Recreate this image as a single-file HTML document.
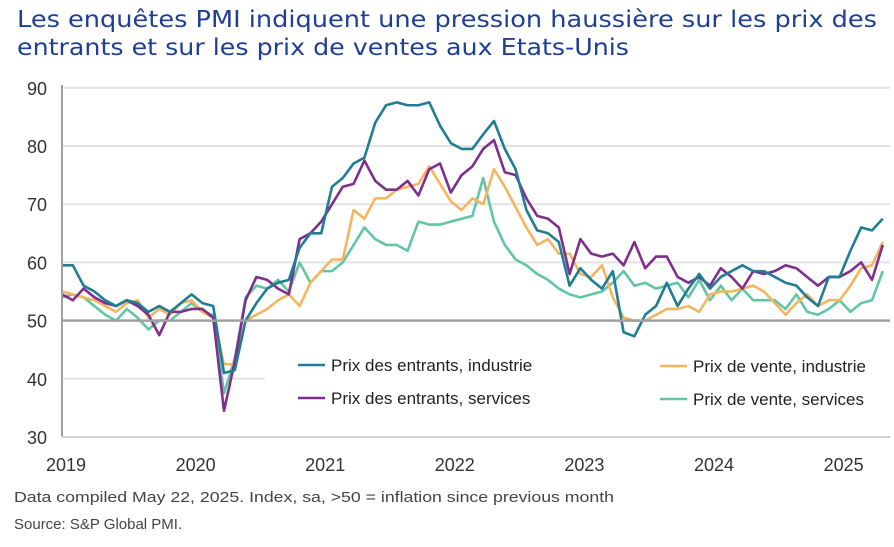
<!DOCTYPE html>
<html><head><meta charset="utf-8"><style>
body{margin:0;background:#fff;width:894px;height:547px;overflow:hidden}
svg{display:block;font-family:"Liberation Sans",sans-serif}
</style></head><body>
<svg id="chart" width="894" height="547">
<text x="17" y="27" font-size="23" fill="#1f3f95" textLength="860" lengthAdjust="spacingAndGlyphs" font-family="DejaVu Sans, sans-serif">Les enquêtes PMI indiquent une pression haussière sur les prix des</text>
<text x="17" y="55" font-size="23" fill="#1f3f95" textLength="612" lengthAdjust="spacingAndGlyphs" font-family="DejaVu Sans, sans-serif">entrants et sur les prix de ventes aux Etats-Unis</text>
<g id="grid"></g><g id="series"></g><g id="legend"></g><g id="axes"></g>
<text x="14" y="502" font-size="15" fill="#444" textLength="600" lengthAdjust="spacingAndGlyphs">Data compiled May 22, 2025. Index, sa, &gt;50 = inflation since previous month</text>
<text x="14" y="529" font-size="15" fill="#444">Source: S&amp;P Global PMI.</text>
</svg>
<script>
const yTicks=[30,40,50,60,70,80,90];
const yearLabels=["2019","2020","2021","2022","2023","2024","2025"];
const inputIndustry=[59.5,59.5,56,55,53.5,52.5,53.5,53,51.5,52.5,51.5,53,
54.5,53,52.5,41,41.5,50,53,55.5,56.5,57,62.5,65,
65,73,74.5,77,78,84,87,87.5,87,87,87.5,83.5,
80.5,79.5,79.5,82,84.3,79.5,76,69,65.5,65,63.5,56,
59,57,55.5,58.5,48,47.3,51,52.5,56.5,52.5,55.5,58,
55.5,57.5,58.5,59.5,58.5,58.5,57.5,56.5,56,54,52.5,57.5,
57.5,62,66,65.5,67.5];
const inputServices=[54.5,53.5,55.5,54,53,52.5,53.5,52.5,51,47.5,51.5,51.5,
52,52,50.5,34.5,43,53.5,57.5,57,55.5,54.5,64,65,
67,70,73,73.5,77.5,74,72.5,72.5,74,71.5,76,77,
72,75,76.5,79.5,81,75.5,75,71,68,67.5,66,58,
64,61.5,61,61.5,59.5,63.5,59,61,61,57.5,56.5,57.5,
56,59,57.5,55.5,58.5,58,58.5,59.5,59,57.5,56,57.5,
57.5,58.5,60,57,63];
const outputIndustry=[55,54.5,54,53.5,52.5,51.5,53,53.5,50.5,52,51,53,
53.5,51.5,50.5,42.5,42.5,50,51,52,53.5,54.5,52.5,56.5,
58.5,60.5,60.5,69,67.5,71,71,72.5,73,73.5,76.5,73.5,
70.5,69,71,70,76,73,69.5,66,63,64,61.5,61.5,
58,57.5,59.5,54,50.5,50,50,51,52,52,52.5,51.5,
54.5,55,55,55.5,56,55,53,51,53,54.5,52.5,53.5,
53.5,56,59,59.5,63.5];
const outputServices=[54,54.5,54,52.5,51,50,52,50.5,48.5,50,50,51.5,
53,51.5,51,37.5,43.5,54,56,55.5,57,55,60,56.5,
58.5,58.5,60,63,66,64,63,63,62,67,66.5,66.5,
67,67.5,68,74.5,67,63,60.5,59.5,58,57,55.5,54.5,
54,54.5,55,56.5,58.5,56,56.5,55.5,56,56.5,54,57,
53.5,56,53.5,55.5,53.5,53.5,53.5,52,54.5,51.5,51,52,
53.5,51.5,53,53.5,58.5];
const NS="http://www.w3.org/2000/svg";
const x0=62,dx=10.8,y30=437,pxPer=5.82;
const X=i=>x0+i*dx, Y=v=>y30-(v-30)*pxPer;
function mk(tag,attrs,parent,text){const e=document.createElementNS(NS,tag);for(const k in attrs)e.setAttribute(k,attrs[k]);if(text!==undefined)e.textContent=text;parent.appendChild(e);return e;}
const grid=document.getElementById('grid'),axes=document.getElementById('axes');
yTicks.forEach(t=>{
  if(t!==30&&t!==50){const l=mk('line',{x1:x0,x2:890,y1:Y(t),y2:Y(t),stroke:'#e3e3e3','stroke-width':2},grid);
  
  }
  const tx=mk('text',{x:47,y:Y(t)+7,'text-anchor':'end','font-size':18,fill:'#333'},axes,String(t));
  
  
});
const base=mk('line',{x1:x0,x2:890,y1:Y(50),y2:Y(50),stroke:'#a0a0a0','stroke-width':2.5},axes);


const ya=mk('line',{x1:x0,x2:x0,y1:85,y2:Y(30),stroke:'#a0a0a0','stroke-width':2},axes);


const xa=mk('line',{x1:x0,x2:890,y1:Y(30),y2:Y(30),stroke:'#d0d0d0','stroke-width':2},axes);


yearLabels.forEach((lab,i)=>{
  const tx=mk('text',{x:X(i*12)+4,y:471,'text-anchor':'middle','font-size':18,fill:'#333'},axes,lab);
  
  
});
const ser=document.getElementById('series');
const defs=[[outputServices,'#62c6a6','output-services'],[outputIndustry,'#f5b55f','output-industry'],[inputServices,'#7e2f8e','input-services'],[inputIndustry,'#1f7d94','input-industry']];
defs.forEach(([d,c,n])=>{
  const p=mk('polyline',{points:d.map((v,i)=>X(i)+','+Y(v)).join(' '),fill:'none',stroke:c,'stroke-width':2.6,'stroke-linejoin':'round'},ser);
  
  
});
const lg=document.getElementById('legend');
const bg=mk('rect',{x:265,y:345,width:625,height:70,fill:'#fff'},lg);


[[298,365,'#1f7d94','Prix des entrants, industrie','legend-input-industry'],
 [298,398,'#7e2f8e','Prix des entrants, services','legend-input-services'],
 [660,366,'#f5b55f','Prix de vente, industrie','legend-output-industry'],
 [660,399,'#62c6a6','Prix de vente, services','legend-output-services']].forEach(([x,y,c,t,n])=>{
  const g=mk('g',{},lg);
  
  
  mk('line',{x1:x,x2:x+27,y1:y,y2:y,stroke:c,'stroke-width':2.6},g);
  mk('text',{x:x+33,y:y+6,'font-size':17,fill:'#222'},g,t);
});
</script>
</body></html>
